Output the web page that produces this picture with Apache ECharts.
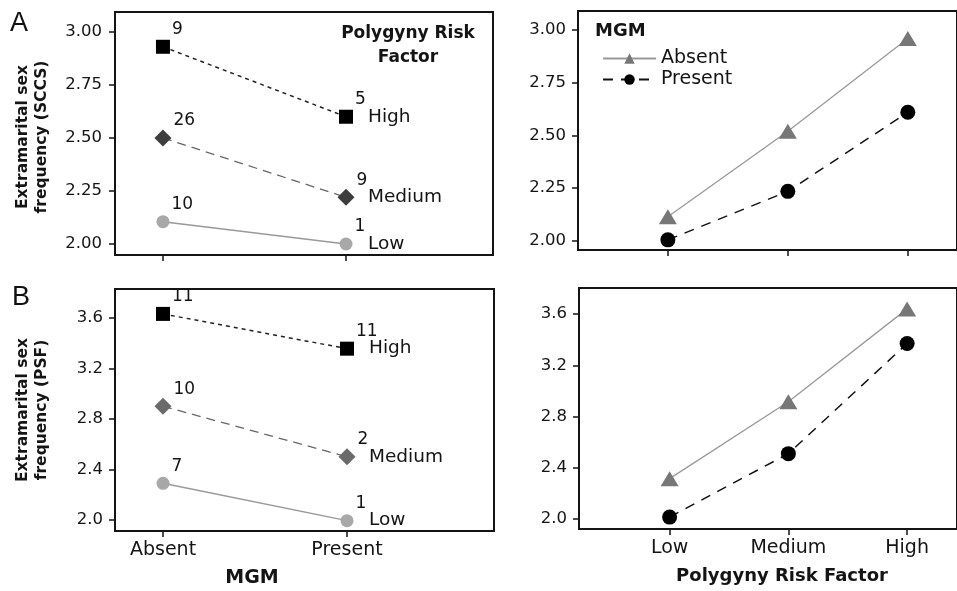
<!DOCTYPE html>
<html>
<head>
<meta charset="utf-8">
<script src="https://cdn.jsdelivr.net/npm/echarts@6/dist/echarts.min.js"></script>
<style>
  html, body { margin: 0; padding: 0; background: #fff; }
  #chart { width: 957px; height: 591px; }
</style>
</head>
<body>
<div id="chart"></div>
<script>
// categories
var mgmCats = ['Absent', 'Present']
var riskCats = ['Low', 'Medium', 'High']

// tick labels
var ticksA = [2.0, 2.25, 2.5, 2.75, 3.0]
var ticksB = [2.0, 2.4, 2.8, 3.2, 3.6]

// panel A left: SCCS by MGM, one line per risk level
var sccsHigh = [2.93, 2.60]
var sccsMedium = [2.50, 2.22]
var sccsLow = [2.105, 2.00]
var sccsHighN = [9, 5]
var sccsMediumN = [26, 9]
var sccsLowN = [10, 1]

// panel A right: SCCS by risk factor, one line per MGM
var sccsAbsent = [2.115, 2.52, 2.96]
var sccsPresent = [2.005, 2.235, 2.61]

// panel B left: PSF by MGM
var psfHigh = [3.63, 3.355]
var psfMedium = [2.90, 2.50]
var psfLow = [2.29, 1.995]
var psfHighN = [11, 11]
var psfMediumN = [10, 2]
var psfLowN = [7, 1]

// panel B right: PSF by risk factor
var psfAbsent = [2.315, 2.915, 3.64]
var psfPresent = [2.015, 2.51, 3.37]

var FONT = 'DejaVu Sans'
var INK = '#141414'

var chart = echarts.init(document.getElementById('chart'), null, { renderer: 'canvas' })

function pts(vals) {
  return vals.map(function (v, i) { return [i, v] })
}

function makeX(idx, min, max, cats, showLabel) {
  var pos = cats.map(function (c, i) { return i })
  return {
    type: 'value', gridIndex: idx, min: min, max: max,
    axisLine: { show: false, onZero: false },
    splitLine: { show: false },
    axisTick: { show: true, length: 6, lineStyle: { color: INK, width: 1.5 }, customValues: pos },
    axisLabel: {
      show: showLabel, margin: 10, fontFamily: FONT, fontSize: 19, color: INK,
      customValues: pos,
      formatter: function (v) { return cats[Math.round(v)] }
    }
  }
}

function makeY(idx, min, max, ticks, digits, margin) {
  return {
    type: 'value', gridIndex: idx, min: min, max: max,
    axisLine: { show: false, onZero: false },
    splitLine: { show: false },
    axisTick: { show: true, length: 6, lineStyle: { color: INK, width: 1.5 }, customValues: ticks },
    axisLabel: {
      margin: margin, fontFamily: FONT, fontSize: 16.5, color: INK,
      customValues: ticks,
      formatter: function (v) { return v.toFixed(digits) }
    }
  }
}

var riskStyles = {
  High: { symbol: 'rect', size: 14, color: '#000', line: { color: '#222', width: 1.5, type: [4, 4] } },
  Medium: { symbol: 'diamond', size: 17, color: '#4a4a4a', line: { color: '#666', width: 1.3, type: [9, 6] } },
  Low: { symbol: 'circle', size: 13, color: '#a8a8a8', line: { color: '#999', width: 1.5, type: 'solid' } }
}

function riskSeries(name, vals, counts, idx, medColor) {
  var st = riskStyles[name]
  return {
    type: 'line', name: name + idx, xAxisIndex: idx, yAxisIndex: idx,
    data: pts(vals), symbol: st.symbol, symbolSize: st.size,
    itemStyle: { color: name === 'Medium' && medColor ? medColor : st.color },
    lineStyle: st.line,
    label: {
      show: true, position: 'right', offset: [-3, -17], fontFamily: FONT, fontSize: 17, color: INK,
      formatter: function (p) { return counts[p.dataIndex] }
    },
    endLabel: { show: true, distance: 22, fontFamily: FONT, fontSize: 18.5, color: INK, formatter: function () { return name } },
    silent: true, z: 3
  }
}

function mgmSeries(name, vals, idx) {
  var absent = name === 'Absent'
  return {
    type: 'line', name: name, xAxisIndex: idx, yAxisIndex: idx,
    data: pts(vals),
    symbol: absent ? 'triangle' : 'circle',
    symbolSize: absent ? [18, 15] : 15,
    itemStyle: { color: absent ? '#777' : '#000' },
    lineStyle: absent ? { color: '#999', width: 1.3 } : { color: '#111', width: 1.5, type: [10, 8] },
    silent: true, z: 3
  }
}

var gridBase = { show: true, borderColor: INK, borderWidth: 2, backgroundColor: 'transparent' }

chart.setOption({
  animation: false,
  textStyle: { fontFamily: FONT },
  grid: [
    Object.assign({ left: 115, top: 12, width: 378, height: 243 }, gridBase),
    Object.assign({ left: 578, top: 11, width: 384, height: 239 }, gridBase),
    Object.assign({ left: 115, top: 289, width: 379, height: 242 }, gridBase),
    Object.assign({ left: 579, top: 288, width: 384, height: 241 }, gridBase)
  ],
  xAxis: [
    makeX(0, -0.262, 1.803, mgmCats, false),
    makeX(1, -0.749, 2.41, riskCats, false),
    makeX(2, -0.261, 1.799, mgmCats, true),
    makeX(3, -0.763, 2.42, riskCats, true)
  ],
  yAxis: [
    makeY(0, 1.948, 3.094, ticksA, 2, 13),
    makeY(1, 1.957, 3.09, ticksA, 2, 12),
    makeY(2, 1.913, 3.827, ticksB, 1, 12),
    makeY(3, 1.922, 3.803, ticksB, 1, 12)
  ],
  legend: {
    data: ['Absent', 'Present'],
    orient: 'vertical', left: 597, top: 44,
    itemWidth: 53, itemHeight: 13, itemGap: 2,
    textStyle: { fontFamily: FONT, fontSize: 19, color: INK },
    selectedMode: false
  },
  graphic: [
    { type: 'text', left: 10, top: 10, style: { text: 'A', font: '27px "Liberation Sans"', fill: '#111' } },
    { type: 'text', left: 12, top: 284, style: { text: 'B', font: '27px "Liberation Sans"', fill: '#111' } },
    { type: 'text', x: 32, y: 137, rotation: Math.PI / 2,
      style: { text: 'Extramarital sex\nfrequency (SCCS)', font: 'bold 15.5px "DejaVu Sans"', fill: INK, align: 'center', verticalAlign: 'middle', lineHeight: 19 } },
    { type: 'text', x: 32, y: 410, rotation: Math.PI / 2,
      style: { text: 'Extramarital sex\nfrequency (PSF)', font: 'bold 15.5px "DejaVu Sans"', fill: INK, align: 'center', verticalAlign: 'middle', lineHeight: 19 } },
    { type: 'text', x: 408, y: 22,
      style: { text: 'Polygyny Risk\nFactor', font: 'bold 17px "DejaVu Sans"', fill: INK, align: 'center', lineHeight: 24 } },
    { type: 'text', x: 595, y: 22, style: { text: 'MGM', font: 'bold 18px "DejaVu Sans"', fill: INK } },
    { type: 'text', x: 252, y: 578, style: { text: 'MGM', font: 'bold 19px "DejaVu Sans"', fill: INK, align: 'center', verticalAlign: 'middle' } },
    { type: 'text', x: 782, y: 576, style: { text: 'Polygyny Risk Factor', font: 'bold 18px "DejaVu Sans"', fill: INK, align: 'center', verticalAlign: 'middle' } }
  ],
  series: [
    riskSeries('High', sccsHigh, sccsHighN, 0),
    riskSeries('Medium', sccsMedium, sccsMediumN, 0, '#3d3d3d'),
    riskSeries('Low', sccsLow, sccsLowN, 0),
    mgmSeries('Absent', sccsAbsent, 1),
    mgmSeries('Present', sccsPresent, 1),
    riskSeries('High', psfHigh, psfHighN, 2),
    riskSeries('Medium', psfMedium, psfMediumN, 2, '#6a6a6a'),
    riskSeries('Low', psfLow, psfLowN, 2),
    mgmSeries('Absent', psfAbsent, 3),
    mgmSeries('Present', psfPresent, 3)
  ]
})
</script>
</body>
</html>
